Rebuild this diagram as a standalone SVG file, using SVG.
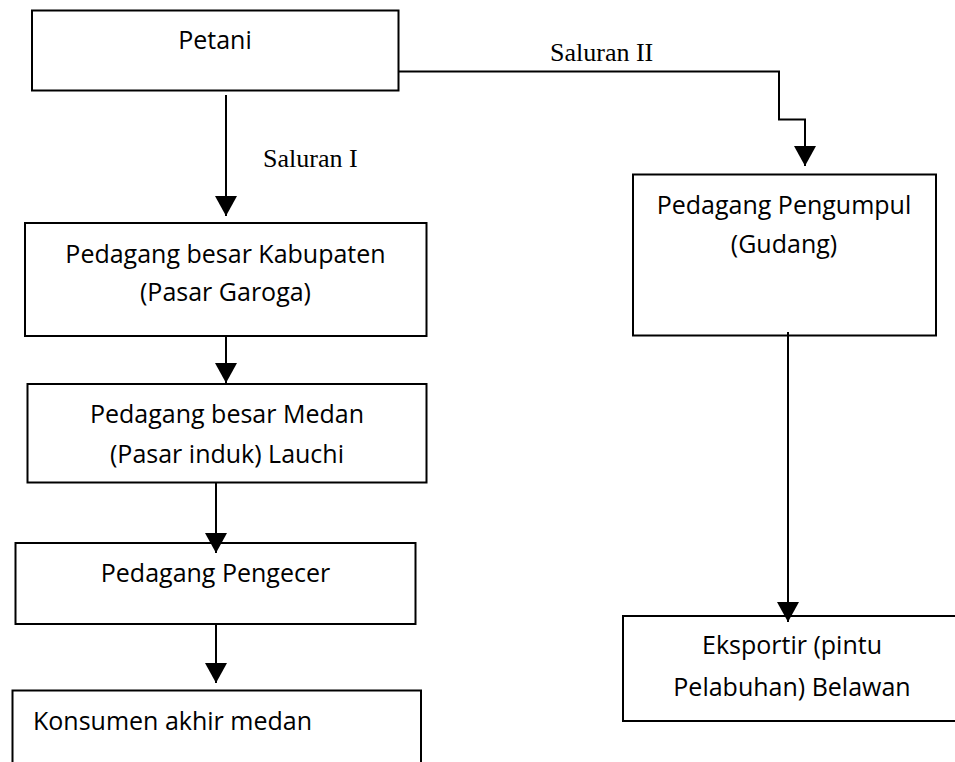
<svg xmlns="http://www.w3.org/2000/svg" width="955" height="762" viewBox="0 0 955 762">
  <style>
    .box { fill: #ffffff; stroke: #000000; stroke-width: 2; }
    .lbl { font-family: "Open Sans", "Liberation Sans", sans-serif; font-size: 25px; fill: #000000; text-anchor: middle; }
    .lbl-start { text-anchor: start; }
    .ch { font-family: "Liberation Serif", "Times New Roman", serif; font-size: 26px; fill: #000000; }
    .conn { fill: none; stroke: #000000; stroke-width: 2; marker-end: url(#arrow); }
  </style>
  <defs>
    <marker id="arrow" markerUnits="userSpaceOnUse" markerWidth="20" markerHeight="22" refX="20" refY="11" orient="auto" viewBox="0 0 20 22">
      <path d="M0,0 L20,11 L0,22 Z" fill="#000000"/>
    </marker>
  </defs>
  <rect width="955" height="762" fill="#ffffff"/>

  <g id="petani">
    <rect class="box" x="32" y="10.5" width="366.5" height="80"/>
    <text class="lbl" x="215" y="49">Petani</text>
  </g>

  <g id="pedagang-besar-kabupaten">
    <rect class="box" x="25" y="223" width="401.5" height="113"/>
    <text class="lbl" x="225.5" y="263">Pedagang besar Kabupaten</text>
    <text class="lbl" x="225.5" y="301">(Pasar Garoga)</text>
  </g>

  <g id="pedagang-besar-medan">
    <rect class="box" x="27.5" y="384" width="399" height="98.5"/>
    <text class="lbl" x="227" y="423">Pedagang besar Medan</text>
    <text class="lbl" x="227" y="462.5">(Pasar induk) Lauchi</text>
  </g>

  <g id="pedagang-pengecer">
    <rect class="box" x="15.5" y="543" width="400" height="81"/>
    <text class="lbl" x="215.5" y="581.5">Pedagang Pengecer</text>
  </g>

  <g id="konsumen-akhir">
    <rect class="box" x="12.5" y="690.5" width="408.5" height="80"/>
    <text class="lbl lbl-start" x="33" y="730">Konsumen akhir medan</text>
  </g>

  <g id="pedagang-pengumpul">
    <rect class="box" x="633" y="174.5" width="303" height="161"/>
    <text class="lbl" x="784" y="213.5">Pedagang Pengumpul</text>
    <text class="lbl" x="784" y="252.5">(Gudang)</text>
  </g>

  <g id="eksportir">
    <rect class="box" x="623" y="616" width="340" height="105"/>
    <text class="lbl" x="792" y="654">Eksportir (pintu</text>
    <text class="lbl" x="792" y="696">Pelabuhan) Belawan</text>
  </g>

  <g id="connectors">
    <path class="conn" d="M226,95 L226,216"/>
    <path class="conn" d="M226,336 L226,383"/>
    <path class="conn" d="M216,483 L216,553"/>
    <path class="conn" d="M216,624 L216,683"/>
    <path class="conn" d="M398,71.5 L779,71.5 L779,119.5 L805,119.5 L805,166"/>
    <path class="conn" d="M788,332 L788,622"/>
    <text class="ch" x="263" y="167">Saluran I</text>
    <text class="ch" x="550" y="61">Saluran II</text>
  </g>
</svg>
